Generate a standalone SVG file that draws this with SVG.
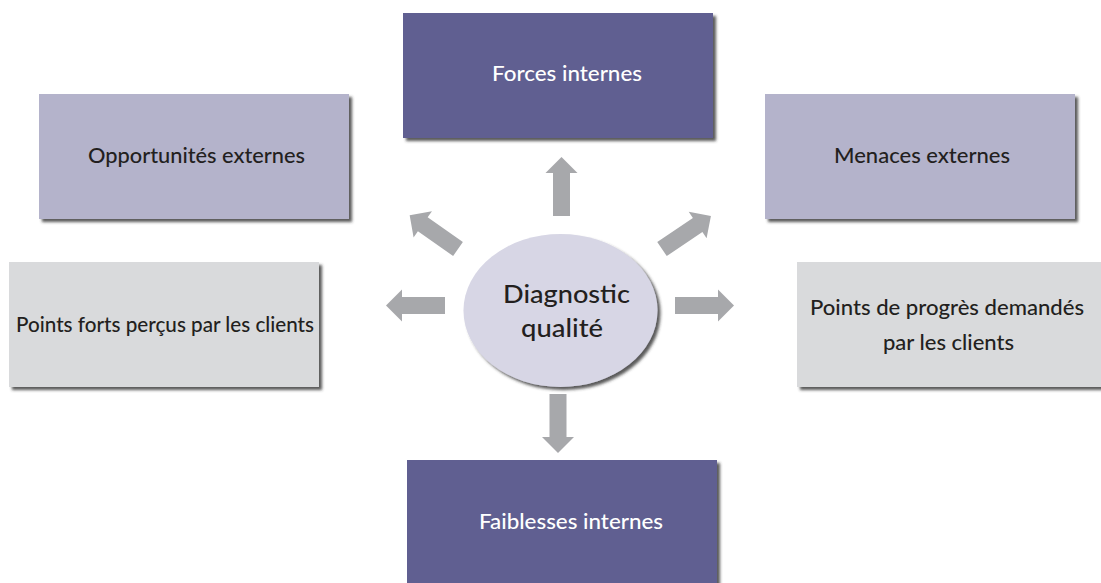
<svg xmlns="http://www.w3.org/2000/svg" width="1101" height="583" viewBox="0 0 1101 583">
  <style>
    .lbl { font-family: Lato, "Liberation Sans", sans-serif; font-size: 21.5px; font-weight: 500; text-anchor: middle; fill: #231f20; }
    .lbl.inv { fill: #ffffff; }
    .lbl.big { font-size: 25px; }
    .dark { fill: #605f91; }
    .lilac { fill: #b4b3cb; }
    .grey { fill: #d9dadc; }
    .arrow { fill: #a7a8ab; }
  </style>
  <defs>
    <filter id="shadow" x="-10%" y="-10%" width="125%" height="130%">
      <feDropShadow dx="3" dy="3" stdDeviation="1.4" flood-color="#2e2e2e" flood-opacity="0.8"/>
    </filter>
    <!-- block arrow pointing along +x, origin at the tail centre -->
    <path id="blockArrow" d="M0,-8.5 H43 V-16 L59,0 L43,16 V8.5 H0 Z"/>
  </defs>

  <rect width="1101" height="583" fill="#ffffff"/>

  <g id="connectors" class="arrow">
    <use href="#blockArrow" transform="translate(561.5,216) rotate(-90)"/>
    <use href="#blockArrow" transform="translate(558,394) rotate(90)"/>
    <use href="#blockArrow" transform="translate(445,305.5) rotate(180)"/>
    <use href="#blockArrow" transform="translate(675,305.5)"/>
    <use href="#blockArrow" transform="translate(458,249) rotate(-145)"/>
    <use href="#blockArrow" transform="translate(662,249) rotate(-34)"/>
  </g>

  <g id="forces">
    <rect class="dark" x="403" y="13" width="310" height="125" filter="url(#shadow)"/>
    <text class="lbl inv" x="567" y="81" textLength="150" lengthAdjust="spacingAndGlyphs">Forces internes</text>
  </g>

  <g id="opportunites">
    <rect class="lilac" x="39" y="94" width="310" height="125" filter="url(#shadow)"/>
    <text class="lbl" x="196.5" y="163" textLength="217" lengthAdjust="spacingAndGlyphs">Opportunités externes</text>
  </g>

  <g id="menaces">
    <rect class="lilac" x="765" y="94" width="310" height="125" filter="url(#shadow)"/>
    <text class="lbl" x="922" y="163" textLength="176" lengthAdjust="spacingAndGlyphs">Menaces externes</text>
  </g>

  <g id="points-forts">
    <rect class="grey" x="9" y="262" width="310" height="125" filter="url(#shadow)"/>
    <text class="lbl" x="165" y="332" textLength="298" lengthAdjust="spacingAndGlyphs">Points forts perçus par les clients</text>
  </g>

  <g id="points-progres">
    <rect class="grey" x="797" y="262" width="310" height="125" filter="url(#shadow)"/>
    <text class="lbl" x="947" y="315" textLength="274" lengthAdjust="spacingAndGlyphs">Points de progrès demandés</text>
    <text class="lbl" x="948.5" y="350" textLength="131" lengthAdjust="spacingAndGlyphs">par les clients</text>
  </g>

  <g id="faiblesses">
    <rect class="dark" x="407" y="460" width="310" height="125" filter="url(#shadow)"/>
    <text class="lbl inv" x="571" y="529" textLength="184" lengthAdjust="spacingAndGlyphs">Faiblesses internes</text>
  </g>

  <g id="diagnostic">
    <ellipse cx="560.5" cy="310.5" rx="97" ry="76.5" fill="#d7d6e5" filter="url(#shadow)"/>
    <text class="lbl big" x="566.5" y="303" textLength="127" lengthAdjust="spacingAndGlyphs">Diagnostic</text>
    <text class="lbl big" x="562" y="337" textLength="82" lengthAdjust="spacingAndGlyphs">qualité</text>
  </g>
</svg>
